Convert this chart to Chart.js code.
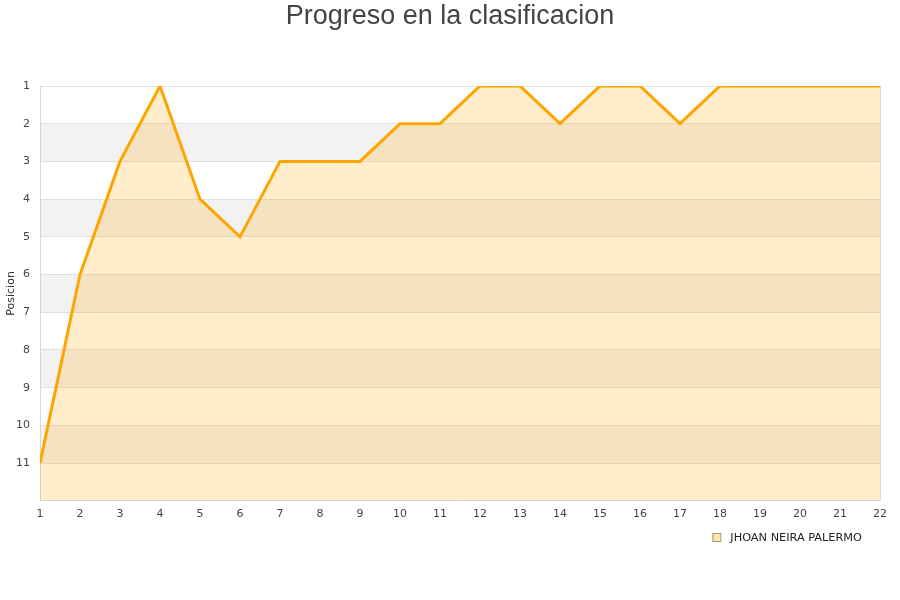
<!DOCTYPE html>
<html>
<head>
<meta charset="utf-8">
<script src="https://cdn.jsdelivr.net/npm/chart.js@4.4.0/dist/chart.umd.min.js"></script>
<style>
html,body{margin:0;padding:0;background:#fff;}
#wrap{width:900px;height:600px;}
</style>
</head>
<body>
<div id="wrap"><canvas id="c" width="900" height="600"></canvas></div>
<script>
const jornadas = ['1','2','3','4','5','6','7','8','9','10','11','12','13','14','15','16','17','18','19','20','21','22'];
const posiciones = [11,6,3,1,4,5,3,3,3,2,2,1,1,2,1,1,2,1,1,1,1,1];
const seriesName = 'JHOAN NEIRA PALERMO';
const chartTitle = 'Progreso en la clasificacion';
const yTitle = 'Posicion';
const bandPairs = [[2,3],[4,5],[6,7],[8,9],[10,11]];

const bgPlugin = {
  id: 'bg',
  beforeDraw(chart) {
    const {ctx, chartArea: a, scales: {y}} = chart;
    ctx.save();
    ctx.fillStyle = '#fff';
    ctx.fillRect(0, 0, chart.width, chart.height);
    ctx.fillStyle = '#f2f2f2';
    bandPairs.forEach(([p, q]) => {
      const y1 = y.getPixelForValue(p), y2 = y.getPixelForValue(q);
      ctx.fillRect(a.left, Math.min(y1, y2), a.right - a.left, Math.abs(y2 - y1));
    });
    ctx.restore();
  },
  afterDraw(chart) {
    const {ctx, chartArea: a} = chart;
    ctx.save();
    // right border
    ctx.strokeStyle = '#d8d8d8';
    ctx.lineWidth = 1;
    ctx.beginPath();
    ctx.moveTo(a.right + 0.5, a.top);
    ctx.lineTo(a.right + 0.5, a.bottom);
    ctx.stroke();
    // title
    ctx.fillStyle = '#444';
    ctx.font = '27px "Liberation Sans"';
    ctx.textAlign = 'center';
    ctx.textBaseline = 'middle';
    ctx.fillText(chartTitle, chart.width / 2, 17);
    // legend
    ctx.font = '11.3px "DejaVu Sans"';
    ctx.textAlign = 'right';
    ctx.fillStyle = '#222';
    const tx = 862, ty = 538;
    ctx.fillText(seriesName, tx, ty);
    const w = ctx.measureText(seriesName).width;
    const bx = tx - w - 17.5;
    ctx.fillStyle = '#ffe3b0';
    ctx.fillRect(bx, ty - 4.5, 8, 8);
    ctx.strokeStyle = '#a89870';
    ctx.strokeRect(bx, ty - 4.5, 8, 8);
    ctx.restore();
  }
};

new Chart(document.getElementById('c'), {
  type: 'line',
  data: {
    labels: jornadas,
    datasets: [{
      label: seriesName,
      data: posiciones,
      borderColor: '#FFA500',
      backgroundColor: 'rgba(255,165,0,0.2)',
      borderWidth: 3,
      pointRadius: 0,
      tension: 0,
      fill: { value: 12 },
      clip: 0
    }]
  },
  options: {
    responsive: false,
    animation: false,
    layout: { padding: { left: 0, right: 20, top: 86, bottom: 72 } },
    plugins: {
      title: { display: false },
      legend: { display: false },
      tooltip: { enabled: false }
    },
    scales: {
      x: {
        offset: false,
        grid: { display: false, drawTicks: false, tickLength: 0 },
        border: { display: true, color: '#d8d8d8' },
        ticks: { color: '#444', font: { family: 'DejaVu Sans', size: 11 }, maxRotation: 0, autoSkip: false, padding: 7 }
      },
      y: {
        reverse: true,
        min: 1,
        max: 12,
        afterFit(s) { s.width = 40; },
        grid: { color: '#e0e0e0', drawTicks: false },
        border: { display: true, color: '#d8d8d8' },
        title: { display: true, text: yTitle, color: '#333', font: { family: 'DejaVu Sans', size: 11 }, padding: { top: 5, bottom: 0 } },
        ticks: {
          stepSize: 1,
          color: '#444',
          font: { family: 'DejaVu Sans', size: 11 },
          padding: 10,
          callback(v) { return v === 12 ? '' : v; }
        }
      }
    }
  },
  plugins: [bgPlugin]
});
</script>
</body>
</html>
